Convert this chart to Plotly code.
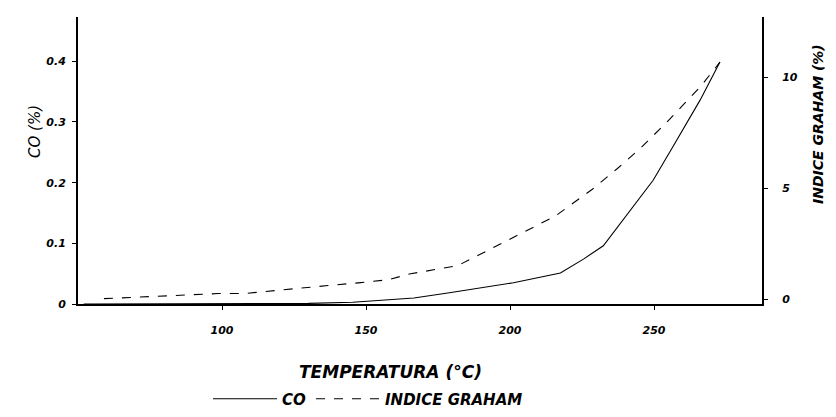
import plotly.graph_objects as go

# Temperature (°C) and CO (%) — left axis
co_temp = [52, 100, 130, 145.4, 166.6, 178.4, 189.8, 201.2, 217.5, 225.5, 232.4, 249.7, 256.3, 266.0, 272.9]
co_vals = [0.0, 0.0, 0.001, 0.003, 0.010, 0.018, 0.026, 0.035, 0.051, 0.074, 0.096, 0.204, 0.257, 0.336, 0.399]

# Temperature (°C) and Graham index (%) — right axis
gr_temp = [59.0, 67.4, 78.9, 90.3, 98.7, 107.7, 114.6, 125.0, 136.8, 148.2, 157.6, 165.5, 181.8,
           215.7, 222.0, 228.6, 237.3, 245.2, 253.9, 266.0, 272.9]
gr_vals = [0.04, 0.09, 0.18, 0.22, 0.27, 0.27, 0.36, 0.49, 0.63, 0.76, 0.89, 1.16, 1.52,
           3.75, 4.33, 4.96, 5.89, 6.79, 7.90, 9.55, 10.67]

x_ticks = [100, 150, 200, 250]
y_left_ticks = [0, 0.1, 0.2, 0.3, 0.4]
y_left_text = ["0", "0.1", "0.2", "0.3", "0.4"]
y_right_ticks = [0, 5, 10]

# page body has an 8px margin; size the figure so it fits the 836x417 window
OFF = 8
W, H = 836 - 2 * OFF, 417 - 2 * OFF
L, T = 78 - OFF, 17 - OFF
R = W - (762 - OFF)
B = H - (304 - OFF)

FONT = "DejaVu Sans"
tickfont = dict(family=FONT, size=11, color="black", weight="bold", style="italic")

fig = go.Figure()
fig.add_trace(go.Scatter(x=co_temp, y=co_vals, name="CO", mode="lines",
                         line=dict(color="black", width=1.1)))
fig.add_trace(go.Scatter(x=gr_temp, y=gr_vals, name="INDICE GRAHAM", mode="lines",
                         line=dict(color="black", width=1.1, dash="dash"), yaxis="y2"))

pw, ph = W - L - R, H - T - B

fig.update_layout(
    width=W, height=H,
    margin=dict(l=L, r=R, t=T, b=B, autoexpand=False),
    paper_bgcolor="white", plot_bgcolor="white",
    showlegend=True,
    legend=dict(orientation="h", x=(208 - OFF - L) / pw, xanchor="left",
                y=-(399 - 304) / ph, yanchor="middle",
                font=dict(family=FONT, size=15, color="black", weight="bold", style="italic"),
                itemwidth=64, bgcolor="rgba(0,0,0,0)"),
    xaxis=dict(range=[50, 287.5], tickvals=x_ticks, showline=True, linecolor="black", linewidth=2,
               ticks="outside", ticklen=4, tickcolor="black", tickfont=tickfont, automargin=False,
               ticklabelstandoff=11, showgrid=False, zeroline=False, mirror=False),
    yaxis=dict(range=[0, 0.473], tickvals=y_left_ticks, ticktext=y_left_text, showline=True,
               linecolor="black", linewidth=2, ticks="outside", ticklen=4, tickcolor="black",
               tickfont=tickfont, ticklabelstandoff=4, showgrid=False, zeroline=False,
               automargin=False),
    yaxis2=dict(range=[-0.2, 12.7], tickvals=y_right_ticks, overlaying="y", side="right",
                showline=True, linecolor="black", linewidth=2, ticks="outside", ticklen=4,
                tickcolor="black", tickfont=tickfont, ticklabelstandoff=12, automargin=False,
                showgrid=False, zeroline=False),
    annotations=[
        dict(text="TEMPERATURA (°C)", x=390, y=372, xref="paper", yref="paper",
             showarrow=False,
             font=dict(family=FONT, size=17, color="black", weight="bold", style="italic"),
             xanchor="center", yanchor="middle"),
        dict(text="CO (%)", x=35, y=132, xref="paper", yref="paper", textangle=-90,
             showarrow=False, font=dict(family=FONT, size=15, color="black", style="italic"),
             xanchor="center", yanchor="middle"),
        dict(text="INDICE GRAHAM (%)", x=818, y=124, xref="paper", yref="paper", textangle=-90,
             showarrow=False, font=dict(family=FONT, size=14, color="black", weight="bold",
                                        style="italic"),
             xanchor="center", yanchor="middle"),
    ],
)

# convert page-pixel annotation positions to paper coordinates
for a in fig.layout.annotations:
    a.x = (a.x - OFF - L) / pw
    a.y = (H - B - (a.y - OFF)) / ph

fig.write_html("out.html")
